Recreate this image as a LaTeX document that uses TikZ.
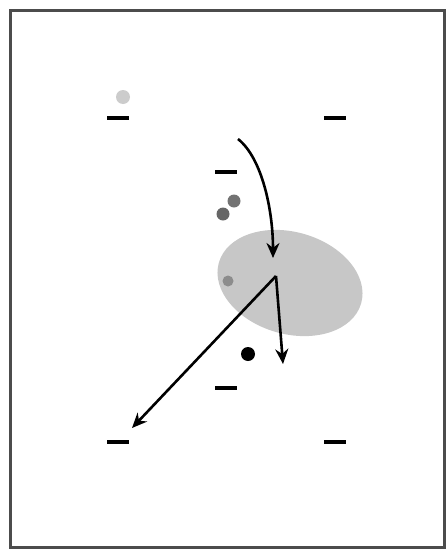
\documentclass[tikz,border=0pt]{standalone}
\usetikzlibrary{arrows.meta}

\tikzset{
  bar/.style={fill=black, minimum width=22pt, minimum height=4.5pt, inner sep=0pt},
  spot/.style={circle, inner sep=0pt, minimum size=#1},
  move/.style={-{Stealth[length=15pt,width=13pt]}, line width=2.6pt}
}

\begin{document}
\begin{tikzpicture}[x=1pt, y=-1pt]

    % frame
    \useasboundingbox (0,0) rectangle (445,549);
    \draw[black!70, line width=3pt] (10,10) rectangle (444,547);

    % region
    \fill[black!22, rotate around={-16:(290,283)}] (290,283) ellipse (74pt and 51pt);

    % bars
    \node[bar] (b1) at (118,118) {};
    \node[bar] (b2) at (335,118) {};
    \node[bar] (b3) at (226,172) {};
    \node[bar] (b4) at (226,388) {};
    \node[bar] (b5) at (118,442) {};
    \node[bar] (b6) at (335,442) {};

    % spots
    \node[spot=14pt, fill=black!20] (s1) at (123,97) {};
    \node[spot=13pt, fill=black!55] (s2) at (234,201) {};
    \node[spot=13pt, fill=black!60] (s3) at (223,214) {};
    \node[spot=11pt, fill=black!45] (s4) at (228,281) {};
    \node[spot=14pt, fill=black] (s5) at (248,354) {};

    % coordinates
    \coordinate (A) at (238,139);
    \coordinate (B) at (273,258);
    \coordinate (C) at (276,276);
    \coordinate (D) at (283,364);
    \coordinate (E) at (132,428);

    % arrows
    \draw[move] (A) .. controls (262,158) and (273,210) .. (B);
    \draw[move] (C) -- (D);
    \draw[move] (C) -- (E);

\end{tikzpicture}
\end{document}
